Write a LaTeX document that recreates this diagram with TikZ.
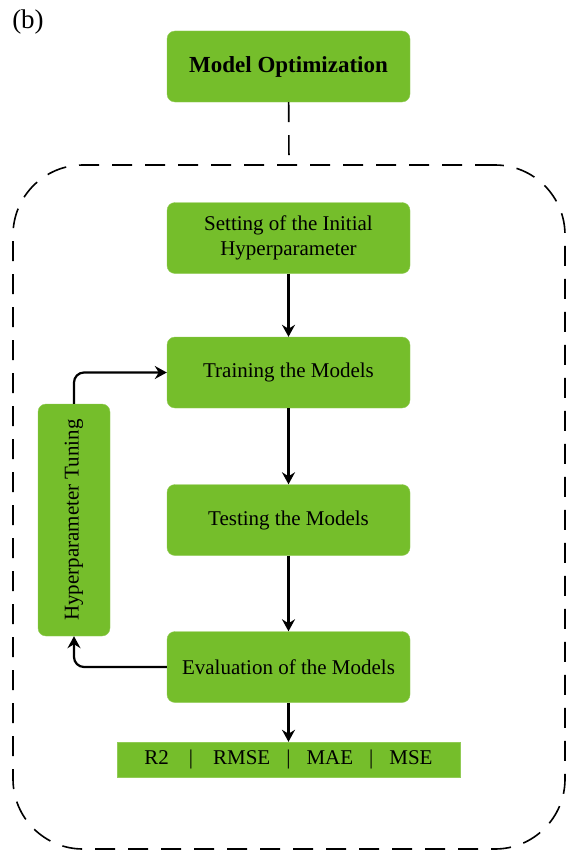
\documentclass[tikz,border=0pt]{standalone}
\usepackage{fontspec}
\usepackage{graphicx}
\setmainfont{Liberation Serif}
\usetikzlibrary{arrows.meta}

\definecolor{leaf}{RGB}{117,190,43}

\begin{document}
\begin{tikzpicture}[x=1pt, y=-1pt,
  every node/.style={font=\fontsize{21}{25}\selectfont},
  box/.style={fill=leaf, draw=leaf!80!white, rounded corners=8pt, minimum width=243pt, minimum height=71pt, align=center},
  flow/.style={-{Stealth[length=12pt, width=13pt, inset=4pt]}, line width=2.2pt},
  frame/.style={draw, line width=1.6pt, dash pattern=on 20pt off 13pt}]
  \useasboundingbox (0, 0) rectangle (568, 851);

  \node (tag) at (28, 22) {\fontsize{27}{30}\selectfont (b)};
  \node (opt) [box] at (288.5, 66.5) {\fontsize{23}{27}\selectfont\textbf{Model Optimization}};
  \node (frame) [frame, rounded corners=70pt, minimum width=552pt, minimum height=684pt] at (289, 507) {};

  \node (init) [box] at (288.5, 238) {Setting of the Initial\\Hyperparameter};
  \node (train) [box] at (288.5, 372.5) {Training the Models};
  \node (test) [box] at (288.5, 520) {Testing the Models};
  \node (eval) [box] at (288.5, 667) {Evaluation of the Models};
  \node (tune) [box, minimum width=72pt, minimum height=232pt] at (74, 520) {\rotatebox{90}{Hyperparameter Tuning}};
  \node (metric) [fill=leaf, draw=leaf!80!white, minimum width=343pt, minimum height=35pt] at (288.5, 759.5)
    {R2\hspace{20pt}|\hspace{20pt}RMSE\hspace{16pt}|\hspace{16pt}MAE\hspace{16pt}|\hspace{16pt}MSE};

  \draw [frame] (opt) -- (frame.north);
  \draw [flow] (init) -- (train);
  \draw [flow] (train) -- (test);
  \draw [flow] (test) -- (eval);
  \draw [flow] (eval) -- (metric);
  \draw [flow, rounded corners=10pt] (tune.north) |- (train.west);
  \draw [flow, rounded corners=10pt] (eval.west) -| (tune.south);
\end{tikzpicture}
\end{document}
